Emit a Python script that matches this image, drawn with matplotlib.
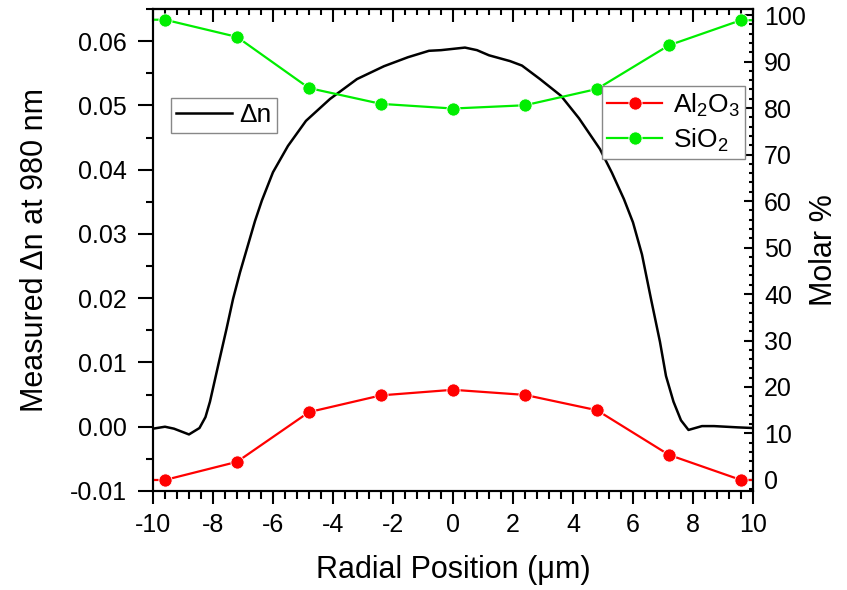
import numpy as np
import matplotlib
matplotlib.use('Agg')
import matplotlib.pyplot as plt
from matplotlib.ticker import MultipleLocator

plt.rcParams['font.family'] = ['Liberation Sans', 'DejaVu Sans']
plt.rcParams['mathtext.fontset'] = 'custom'
plt.rcParams['mathtext.rm'] = 'Liberation Sans'
plt.rcParams['mathtext.it'] = 'Liberation Sans:italic'
plt.rcParams['axes.unicode_minus'] = False

# measured index profile (left axis)
r_dn = [-10, -9.6, -9.3, -8.8, -8.45, -8.25, -8.1, -7.95, -7.8, -7.55, -7.33,
        -7.1, -6.85, -6.6, -6.37, -6.0, -5.5, -4.9, -4.1, -3.2, -2.3, -1.5,
        -0.8, -0.4, 0.0, 0.4, 0.8, 1.2, 1.9, 2.3, 2.9, 3.6, 4.2, 4.9, 5.3, 5.7,
        6.0, 6.3, 6.6, 6.9, 7.1, 7.35, 7.6, 7.85, 8.3, 8.7, 9.1, 9.5, 10]
dn = [-0.0003, 0.0000, -0.0003, -0.0012, -0.0002, 0.0015, 0.0039, 0.0070,
      0.0101, 0.0152, 0.0199, 0.0240, 0.0280, 0.0320, 0.0352, 0.0396, 0.0437,
      0.0476, 0.0510, 0.0541, 0.0561, 0.0575, 0.0585, 0.0586, 0.0588, 0.0590,
      0.0586, 0.0578, 0.0569, 0.0562, 0.0541, 0.0515, 0.0480, 0.0432, 0.0395,
      0.0354, 0.0318, 0.0268, 0.0199, 0.0132, 0.0079, 0.0039, 0.0010,
      -0.0005, 0.0001, 0.0001, 0.0000, -0.0001, -0.0002]

# composition (right axis), end values held to the axis edges
r_comp = [-10, -9.6, -7.2, -4.8, -2.4, 0.0, 2.4, 4.8, 7.2, 9.6, 10]
al2o3 = [0.0, 0.0, 3.9, 14.6, 18.2, 19.4, 18.3, 15.0, 5.4, 0.0, 0.0]
sio2 = [99.0, 99.0, 95.3, 84.3, 80.9, 79.9, 80.6, 84.1, 93.5, 98.9, 98.9]

fig = plt.figure(figsize=(8.47, 5.90), dpi=100)
ax = fig.add_axes([0.1806, 0.1678, 0.7084, 0.8169])
ax2 = ax.twinx()

ax.plot(r_dn, dn, color='black', lw=1.8, label='Δn')

marks = list(range(1, 10))
ax2.plot(r_comp, al2o3, color='#ff0000', lw=1.6, marker='o', ms=9.5,
         mec='white', mew=0.6, markevery=marks, label='Al$_2$O$_3$')
ax2.plot(r_comp, sio2, color='#00ee00', lw=1.6, marker='o', ms=9.5,
         mec='white', mew=0.6, markevery=marks, label='SiO$_2$')

ax.set_xlim(-10, 10)
ax.set_ylim(-0.01, 0.065)
ax2.set_ylim(-2.37, 101.3)

ax.xaxis.set_major_locator(MultipleLocator(2))
ax.xaxis.set_minor_locator(MultipleLocator(0.4))
ax.yaxis.set_major_locator(MultipleLocator(0.01))
ax.yaxis.set_minor_locator(MultipleLocator(0.005))
ax.yaxis.set_major_formatter(matplotlib.ticker.FormatStrFormatter('%.2f'))
ax2.yaxis.set_major_locator(MultipleLocator(10))
ax2.yaxis.set_minor_locator(MultipleLocator(2))

for a in (ax, ax2):
    for s in a.spines.values():
        s.set_linewidth(1.5)

ax.tick_params(axis='x', which='both', direction='out', width=1.5,
               labelsize=18, pad=7)
ax.tick_params(axis='x', which='major', length=9)
ax.tick_params(axis='x', which='minor', length=5.5)
ax.tick_params(axis='y', which='both', direction='out', width=1.5,
               labelsize=18, pad=8, right=False)
ax.tick_params(axis='y', which='major', length=11)
ax.tick_params(axis='y', which='minor', length=5)
ax2.tick_params(axis='y', which='both', direction='in', width=1.5,
                labelsize=18, pad=8)
ax2.tick_params(axis='y', which='major', length=6.5)
ax2.tick_params(axis='y', which='minor', length=3)

# mirrored ticks along the top edge
top = ax.secondary_xaxis('top')
top.xaxis.set_major_locator(MultipleLocator(2))
top.xaxis.set_minor_locator(MultipleLocator(0.4))
top.tick_params(which='both', direction='in', width=1.5, labeltop=False)
top.tick_params(which='major', length=9)
top.tick_params(which='minor', length=4.5)
top.spines['top'].set_linewidth(1.5)

ax.set_xlabel('Radial Position (μm)', fontsize=22, labelpad=13)
ax.set_ylabel('Measured Δn at 980 nm', fontsize=22, labelpad=14)
ax2.set_ylabel('Molar %', fontsize=22, labelpad=2)

leg1 = ax.legend(loc='upper left', bbox_to_anchor=(0.03, 0.815),
                 fontsize=19, frameon=True, fancybox=False, framealpha=1,
                 edgecolor='#888888', handlelength=2.1, borderpad=0.2,
                 handletextpad=0.3, borderaxespad=0)
leg1.get_frame().set_linewidth(1.0)
leg2 = ax2.legend(loc='upper right', bbox_to_anchor=(0.987, 0.84),
                  fontsize=19, frameon=True, fancybox=False, framealpha=1,
                  edgecolor='#888888', handlelength=2.1, borderpad=0.2,
                  handletextpad=0.4, labelspacing=0.3, borderaxespad=0)
leg2.get_frame().set_linewidth(1.0)

fig.savefig('out.png', dpi=100)
